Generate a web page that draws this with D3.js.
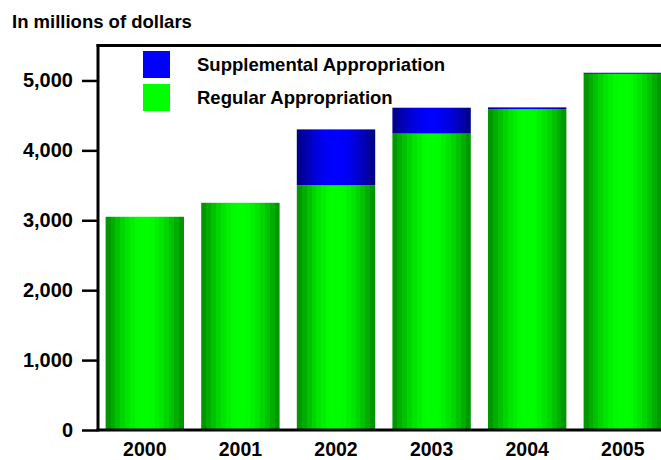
<!DOCTYPE html>
<html>
<head>
<meta charset="utf-8">
<script src="https://cdn.jsdelivr.net/npm/d3@7"></script>
<style>
  html, body { margin: 0; padding: 0; background: #fff; }
  svg { display: block; }
  text { font-family: "Liberation Sans", Arial, sans-serif; font-weight: bold; fill: #000; }
</style>
</head>
<body>
<script>
// Appropriations by fiscal year, in millions of dollars
const years = ["2000", "2001", "2002", "2003", "2004", "2005"];
const regular = [3050, 3250, 3500, 4240, 4590, 5095];
const supplemental = [0, 0, 800, 370, 25, 15];
const yTicks = [0, 1000, 2000, 3000, 4000, 5000];
const legendLabels = ["Supplemental Appropriation", "Regular Appropriation"];

const W = 661, H = 460;
const svg = d3.select("body").append("svg").attr("width", W).attr("height", H);

const x = d3.scaleBand().domain(years).range([97, 670.6]).paddingInner(0.18).paddingOuter(0.09);
const y = d3.scaleLinear().domain([0, 5500]).range([430, 45.5]);

// Striped "cylinder" shading for each series
function stripes(id, edge, center, channel) {
  const g = svg.append("defs").append("linearGradient").attr("id", id)
    .attr("x1", 0).attr("x2", 1).attr("y1", 0).attr("y2", 0);
  const n = 16;
  for (let i = 0; i < n; i++) {
    const t = (i + 0.5) / n;
    const v = Math.round(edge + (center - edge) * Math.sin(Math.PI * t));
    const c = channel === "g" ? `rgb(0,${v},0)` : `rgb(0,0,${v})`;
    g.append("stop").attr("offset", i / n).attr("stop-color", c);
    g.append("stop").attr("offset", (i + 1) / n).attr("stop-color", c);
  }
}
stripes("gGreen", 140, 255, "g");
stripes("gBlue", 130, 255, "b");

const data = years.map((yr, i) => ({ yr, reg: regular[i], sup: supplemental[i] }));

// Regular appropriation
svg.selectAll("rect.reg").data(data).join("rect").attr("class", "reg")
  .attr("x", d => x(d.yr)).attr("width", x.bandwidth())
  .attr("y", d => y(d.reg)).attr("height", d => y(0) - y(d.reg))
  .attr("fill", "url(#gGreen)");

// Supplemental appropriation stacked on top
svg.selectAll("rect.sup").data(data.filter(d => d.sup > 0)).join("rect").attr("class", "sup")
  .attr("x", d => x(d.yr)).attr("width", x.bandwidth())
  .attr("y", d => y(d.reg + d.sup)).attr("height", d => y(d.reg) - y(d.reg + d.sup))
  .attr("fill", "url(#gBlue)");

// Frame: left axis, baseline and top border
svg.append("line").attr("x1", 98).attr("x2", 98).attr("y1", 44).attr("y2", 431.5)
  .attr("stroke", "#000").attr("stroke-width", 3);
svg.append("line").attr("x1", 96.5).attr("x2", W).attr("y1", y(0)).attr("y2", y(0))
  .attr("stroke", "#000").attr("stroke-width", 3);
svg.append("line").attr("x1", 96.5).attr("x2", W).attr("y1", 45.5).attr("y2", 45.5)
  .attr("stroke", "#000").attr("stroke-width", 3);

// Y axis ticks and labels
const yAxis = svg.append("g").attr("transform", "translate(97,0)")
  .call(d3.axisLeft(y).tickValues(yTicks).tickSize(15).tickPadding(9).tickFormat(d3.format(",")));
yAxis.select(".domain").remove();
yAxis.selectAll(".tick line").attr("stroke", "#000").attr("stroke-width", 2.5);
yAxis.selectAll(".tick text").attr("font-size", "20px").attr("font-family", null);

// Year labels
svg.selectAll("text.year").data(years).join("text").attr("class", "year")
  .attr("x", d => x(d) + x.bandwidth() / 2).attr("y", 456)
  .attr("text-anchor", "middle").attr("font-size", "19.5px").text(d => d);

// Units title
svg.append("text").attr("x", 12).attr("y", 28).attr("font-size", "18.5px").text("In millions of dollars");

// Legend
const legColors = ["#0000ff", "#00ff00"];
const leg = svg.selectAll("g.leg").data(legendLabels).join("g").attr("class", "leg")
  .attr("transform", (d, i) => `translate(143,${51 + i * 33})`);
leg.append("rect").attr("width", 27).attr("height", 27).attr("fill", (d, i) => legColors[i]);
leg.append("text").attr("x", 54).attr("y", 20).attr("font-size", "18.5px").text(d => d);
</script>
</body>
</html>
